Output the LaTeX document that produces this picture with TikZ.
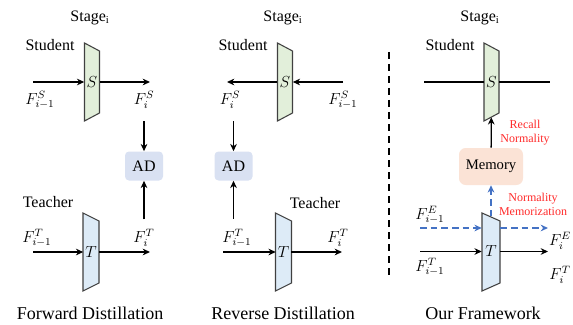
\documentclass[tikz,border=0pt]{standalone}
\usepackage{fontspec}
\setmainfont{Liberation Serif}
\definecolor{STUgreen}{HTML}{E2EFDA}
\definecolor{TEAblue}{HTML}{DDEBF7}
\definecolor{ADblue}{HTML}{D9E1F2}
\definecolor{MEMorange}{HTML}{FBE3D6}
\definecolor{EDGEgray}{HTML}{404040}
\definecolor{NORMred}{HTML}{FF2A2A}
\definecolor{FLOWblue}{HTML}{4472C4}
\usetikzlibrary{arrows.meta, positioning, calc}

\begin{document}
\begin{tikzpicture}[x=0.75pt, y=-0.75pt, font=\fontsize{12}{14}\selectfont,
   flow/.style={-{Stealth[length=5.5pt,width=5pt]}, line width=0.95pt},
   memflow/.style={flow, FLOWblue, dash pattern=on 5pt off 3pt},
   block/.style={inner sep=0pt, minimum width=11.25pt, minimum height=52.5pt},
   adbox/.style={fill=ADblue, rounded corners=3pt, minimum width=28.5pt, minimum height=21.75pt},
   title/.style={font=\fontsize{13.5}{16}\selectfont},
   note/.style={NORMred, font=\fontsize{9}{10.5}\selectfont, align=center, inner sep=0pt}]
      \useasboundingbox (0,0) rectangle (573,324);
      % Stage blocks (left side longer)
      \foreach \cx/\cy/\hw/\col in {92/82/7.5/STUgreen, 91/252/8/TEAblue,
                                    285/82/7.5/STUgreen, 283.5/252/8/TEAblue,
                                    491.5/82/7.5/STUgreen, 491/252/9/TEAblue}
         \filldraw[fill=\col, draw=EDGEgray, line width=0.8pt]
            (\cx-\hw,\cy-39) -- (\cx+\hw,\cy-31) -- (\cx+\hw,\cy+31) -- (\cx-\hw,\cy+39) -- cycle;

      % Forward Distillation
      \node at (90,18) {Stage$_\mathrm{i}$};
      \node at (50,45) {Student};
      \node at (48,202) {Teacher};
      \node[block] (s1) at (92,82) {$S$};
      \node[block] (t1) at (91,252) {$T$};
      \node[adbox] (ad1) at (144,166) {AD};
      \coordinate (ins1) at (33,82);
      \coordinate (outs1) at (150,82);
      \coordinate (int1) at (33,252);
      \coordinate (outt1) at (150,252);
      \draw[flow] (ins1) -- (s1);
      \draw[flow] (s1) -- (outs1);
      \draw[flow] (int1) -- (t1);
      \draw[flow] (t1) -- (outt1);
      \node (fsa1) at (40,100) {$F^S_{i-1}$};
      \node (fsb1) at (144,100) {$F^S_i$};
      \node (fta1) at (37,238) {$F^T_{i-1}$};
      \node (ftb1) at (144,238) {$F^T_i$};
      \draw[flow, shorten <=6pt] (fsb1.south -| ad1) -- (ad1);
      \draw[flow, shorten <=4pt] (ftb1.north -| ad1) -- (ad1);
      \node[title] at (90,313) {Forward Distillation};

      % Reverse Distillation
      \node at (283,18) {Stage$_\mathrm{i}$};
      \node at (243,45) {Student};
      \node at (315,203) {Teacher};
      \node[block] (s2) at (285,82) {$S$};
      \node[block] (t2) at (283.5,252) {$T$};
      \node[adbox] (ad2) at (233.5,166) {AD};
      \coordinate (ins2) at (343,82);
      \coordinate (outs2) at (227,82);
      \coordinate (int2) at (223,252);
      \coordinate (outt2) at (342,252);
      \draw[flow] (ins2) -- (s2);
      \draw[flow] (s2) -- (outs2);
      \draw[flow] (int2) -- (t2);
      \draw[flow] (t2) -- (outt2);
      \node (fsb2) at (230,100) {$F^S_i$};
      \node (fsa2) at (343,100) {$F^S_{i-1}$};
      \node (fta2) at (237,238) {$F^T_{i-1}$};
      \node (ftb2) at (338,238) {$F^T_i$};
      \draw[flow, shorten <=6pt] (fsb2.south -| ad2) -- (ad2);
      \draw[flow, shorten <=4pt] (fta2.north -| ad2) -- (ad2);
      \node[title] at (283,313) {Reverse Distillation};

      % Separator
      \draw[line width=1.9pt, dash pattern=on 5.25pt off 3.75pt] (389,52) -- (389,279);

      % Our Framework
      \node at (480,18) {Stage$_\mathrm{i}$};
      \node at (450,45) {Student};
      \node[block] (s3) at (491.5,82) {$S$};
      \node[block, minimum width=13.5pt] (t3) at (491,251.5) {$T$};
      \node[fill=MEMorange, rounded corners=5pt, minimum width=48pt, minimum height=27.75pt,
         font=\fontsize{11}{13}\selectfont] (mem) at (491,166.5) {Memory};
      \coordinate (ls3) at (424,82);
      \coordinate (rs3) at (550,82);
      \draw[line width=0.95pt] (ls3) -- (s3);
      \draw[line width=0.95pt] (s3) -- (rs3);
      \draw[flow] (mem) -- (s3);
      \draw[memflow] (t3) -- (mem);
      \node[note] at (525,133) {Recall\\Normality};
      \node[note] at (533,204) {Normality\\Memorization};
      % E features (dashed) and T features
      \coordinate (ine3) at (420,228);
      \coordinate (oute3) at (548,228);
      \coordinate (int3) at (420,251.5);
      \coordinate (outt3) at (548,251.5);
      \draw[memflow] (ine3) -- (ine3 -| t3.west);
      \draw[memflow] (ine3 -| t3.east) -- (oute3);
      \draw[flow] (int3) -- (t3);
      \draw[flow] (t3) -- (outt3);
      \node at (430,215) {$F^E_{i-1}$};
      \node at (560,241) {$F^E_i$};
      \node at (430,267) {$F^T_{i-1}$};
      \node at (560,275) {$F^T_i$};
      \node[title] at (483,313) {Our Framework};
\end{tikzpicture}
\end{document}
